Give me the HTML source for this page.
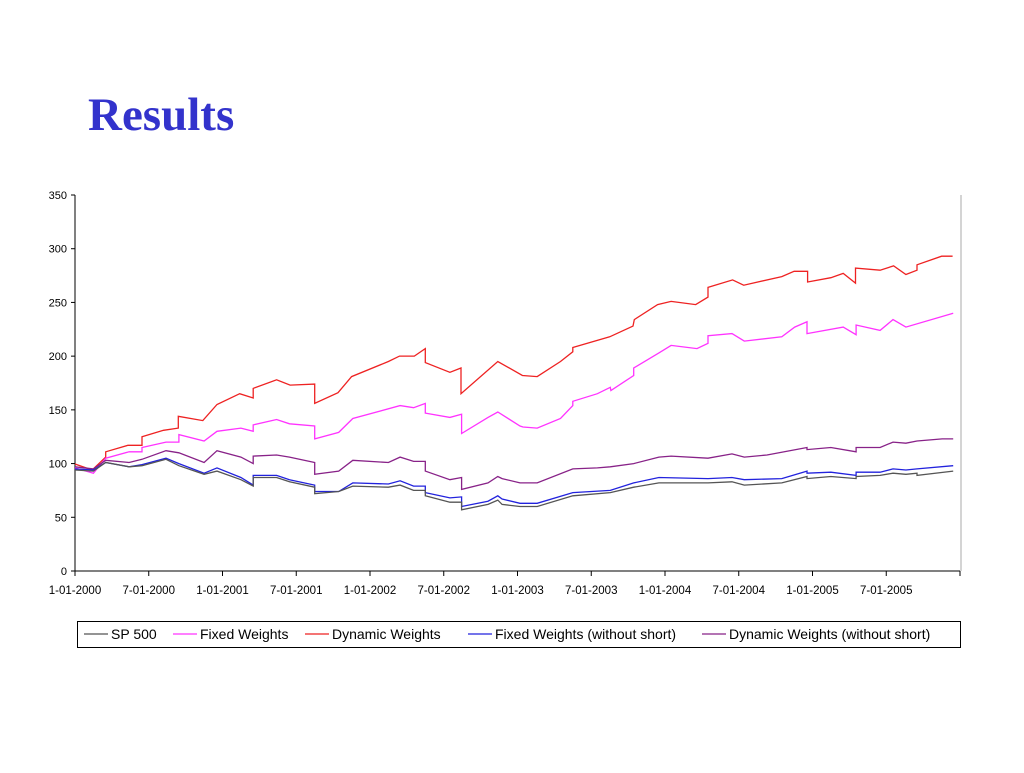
<!DOCTYPE html>
<html><head><meta charset="utf-8"><style>
body{margin:0;background:#fff;width:1024px;height:768px;overflow:hidden}
svg{font-family:"Liberation Sans",Arial,sans-serif}
</style></head><body>
<svg id="c" width="1024" height="768">
<text x="88" y="130" font-family="Liberation Serif,serif" font-weight="bold" font-size="47" fill="#3333cc">Results</text>
<g id="axes"></g><g id="series"></g><g id="legend"></g>
</svg>
<script>
const yTicks=[0,50,100,150,200,250,300,350];
const xTickLabels=["1-01-2000","7-01-2000","1-01-2001","7-01-2001","1-01-2002","7-01-2002","1-01-2003","7-01-2003","1-01-2004","7-01-2004","1-01-2005","7-01-2005",""];
const seriesNames=["SP 500","Fixed Weights","Dynamic Weights","Fixed Weights (without short)","Dynamic Weights (without short)"];
const seriesColors=["#555555","#ff33ff","#ee2222","#2222dd","#882288"];
const spMonths=[0,1.5,2.5,4.4,5.45,7.4,8.45,10.5,11.55,13.5,14.5,14.5,16.4,17.45,19.5,19.5,21.45,22.6,25.5,26.45,27.55,28.5,28.5,30.5,31.45,31.45,33.6,34.4,34.75,36.2,37.6,40.5,43.55,45.45,47.5,51.5,53.45,54.45,57.5,59.55,59.55,61.5,63.55,63.55,65.5,66.55,67.6,68.5,68.5,71.45];
const spValues=[94,93,101,97,98,104,98,90,93,85,79,87,87,83,78,72,74,79,78,80,75,75,70,64,64,57,62,66,62,60,60,70,73,78,82,82,83,80,82,88,86,88,86,88,89,91,90,91,89,93];
const fixedMonths=[0,1.5,2.5,4.4,5.45,5.45,7.4,8.45,8.45,10.5,11.55,13.5,14.5,14.5,16.4,17.45,19.5,19.5,21.45,22.6,26.45,27.55,28.5,28.5,30.5,31.45,31.45,33.6,34.4,36.2,36.45,37.6,39.5,40.5,40.5,42.5,43.55,43.6,45.45,45.45,47.5,48.5,50.6,51.5,51.5,53.45,54.45,57.5,58.55,59.55,59.55,62.5,63.55,63.55,65.5,66.55,67.6,71.45];
const fixedValues=[96,91,105,111,111,115,120,120,127,121,130,133,130,136,141,137,135,123,129,142,154,152,156,147,143,146,128,143,148,135,134,133,142,154,158,165,171,168,182,189,203,210,207,212,219,221,214,218,227,232,221,227,220,229,224,234,227,240];
const dynMonths=[0,1.4,2.5,2.5,4.3,5.45,5.45,7.2,8.4,8.4,10.4,11.55,13.4,14.5,14.5,16.4,17.5,19.5,19.5,21.4,22.5,25.5,26.4,27.6,28.5,28.5,30.5,31.4,31.4,34.4,36.4,37.6,39.5,40.5,40.5,43.5,45.4,45.5,47.4,48.5,50.5,51.5,51.5,53.5,54.4,57.5,58.5,59.6,59.6,61.5,62.5,63.5,63.5,65.5,66.6,67.6,68.5,68.5,70.5,71.4];
const dynValues=[99.6,94,106,111,117,117,125,131,133,144,140,155,165,161,170,178,173,174,156,166,181,195,200,200,207,194,185,189,165,195,182,181,195,204,208,218,228,234,248,251,248,255,264,271,266,274,279,279,269,273,277,268,282,280,284,276,280,285,293,293];
const fixedNsMonths=[0,1.5,2.5,4.4,5.45,7.4,8.45,10.5,11.55,13.5,14.5,14.5,16.4,17.45,19.5,19.5,21.45,22.6,25.5,26.45,27.55,28.5,28.5,30.5,31.45,31.45,33.6,34.4,34.75,36.2,37.6,40.5,43.55,45.45,47.5,51.5,53.45,54.45,57.5,59.55,59.55,61.5,63.55,63.55,65.5,66.55,67.6,68.5,71.45];
const fixedNsValues=[95,94,101,97,99,105,100,91,96,87,80,89,89,85,80,74,74,82,81,84,79,79,73,68,69,60,65,70,67,63,63,73,75,82,87,86,87,85,86,93,91,92,89,92,92,95,94,95,98];
const dynNsMonths=[0,1.5,2.5,4.4,5.45,7.4,8.45,10.5,11.55,13.5,14.5,14.5,16.4,17.45,19.5,19.5,21.45,22.6,25.5,26.45,27.55,28.5,28.5,30.5,31.45,31.45,33.6,34.4,34.75,36.2,37.6,40.5,42.5,43.55,45.45,47.5,48.5,51.5,53.45,54.45,56.3,59.55,59.55,61.5,63.55,63.55,65.5,66.55,67.6,68.5,70.55,71.45];
const dynNsValues=[97,95,103,101,104,112,110,101,112,106,100,107,108,106,101,90,93,103,101,106,102,102,93,85,87,76,82,88,86,82,82,95,96,97,100,106,107,105,109,106,108,115,113,115,111,115,115,120,119,121,123,123];
const allMonths=[spMonths,fixedMonths,dynMonths,fixedNsMonths,dynNsMonths];
const allValues=[spValues,fixedValues,dynValues,fixedNsValues,dynNsValues];

const X0=75,X1=960,Y0=571,Y1=195,NM=72,VMAX=350;
const xs=m=>X0+m*(X1-X0)/NM;
const ys=v=>Y0-v*(Y0-Y1)/VMAX;
const NS="http://www.w3.org/2000/svg";
function mk(tag,attrs,parent){const e=document.createElementNS(NS,tag);for(const k in attrs)e.setAttribute(k,attrs[k]);parent.appendChild(e);return e;}
const axes=document.getElementById('axes');
let e;
e=mk('line',{x1:X0,y1:Y1,x2:X0,y2:Y0,stroke:'#000'},axes);


e=mk('line',{x1:X0,y1:Y0,x2:X1,y2:Y0,stroke:'#000'},axes);


e=mk('line',{x1:X1+1,y1:Y1,x2:X1+1,y2:Y0,stroke:'#aaa'},axes);


yTicks.forEach(v=>{
 mk('line',{x1:X0-4,y1:ys(v),x2:X0,y2:ys(v),stroke:'#000'},axes);
 e=mk('text',{x:X0-8,y:ys(v)+4,'text-anchor':'end','font-size':11},axes);
 e.textContent=v;
 
 
});
xTickLabels.forEach((t,i)=>{
 const x=xs(i*6);
 mk('line',{x1:x,y1:Y0,x2:x,y2:Y0+5,stroke:'#000'},axes);
 e=mk('text',{x:x,y:Y0+23,'text-anchor':'middle','font-size':11.5},axes);
 e.textContent=t;
 
 
});
const sg=document.getElementById('series');
[2,1,4,3,0].forEach(i=>{
 const pts=allMonths[i].map((m,j)=>xs(m).toFixed(1)+','+ys(allValues[i][j]).toFixed(1)).join(' ');
 e=mk('polyline',{points:pts,fill:'none',stroke:seriesColors[i],'stroke-width':1.3},sg);
 
 
});
const lg=document.getElementById('legend');
e=mk('rect',{x:77.5,y:621.5,width:883,height:26,fill:'#fff',stroke:'#000'},lg);


const lx=[84,173,305,468,702];
seriesNames.forEach((n,i)=>{
 mk('line',{x1:lx[i],y1:634,x2:lx[i]+24,y2:634,stroke:seriesColors[i],'stroke-width':1.3},lg);
 e=mk('text',{x:lx[i]+27,y:639,'font-size':14},lg);
 e.textContent=n;
 
 
});
</script>
</body></html>
